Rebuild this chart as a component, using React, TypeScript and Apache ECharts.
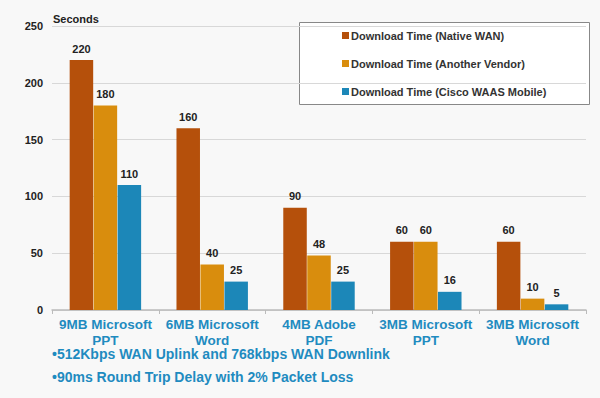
import React, { useEffect, useRef } from "react";
import * as echarts from "echarts";

const categories = ["9MB Microsoft\nPPT", "6MB Microsoft\nWord", "4MB Adobe\nPDF", "3MB Microsoft\nPPT", "3MB Microsoft\nWord"];
const seriesNames = ["Download Time (Native WAN)", "Download Time (Another Vendor)", "Download Time (Cisco WAAS Mobile)"];
const nativeWan = [220, 160, 90, 60, 60];
const anotherVendor = [180, 40, 48, 60, 10];
const ciscoWaas = [110, 25, 25, 16, 5];
const yTicks = [0, 50, 100, 150, 200, 250];
const notes = ["•512Kbps WAN Uplink and 768kbps WAN Downlink", "•90ms Round Trip Delay with 2% Packet Loss"];

const colors = ["#B5500B", "#D98D0D", "#1C87B8"];
const font = "'Liberation Sans', Arial, sans-serif";

export default function App() {
  const ref = useRef<HTMLDivElement>(null);
  useEffect(() => {
    if (!ref.current) return;
    const chart = echarts.init(ref.current, null, { renderer: "svg" });
    const data = [nativeWan, anotherVendor, ciscoWaas];
    chart.setOption({
      animation: false,
      backgroundColor: "#f8f8f8",
      textStyle: { fontFamily: font },
      grid: { left: 52, right: 14, top: 26, bottom: 88 },
      xAxis: {
        type: "category",
        data: categories,
        axisLine: { lineStyle: { color: "#bbbbbb", width: 1.5 } },
        axisTick: { show: true, length: 4, lineStyle: { color: "#bbbbbb" } },
        axisLabel: {
          interval: 0,
          color: "#1F8BC0",
          fontSize: 13.5,
          fontWeight: "bold",
          lineHeight: 16,
          margin: 6,
          fontFamily: font,
        },
      },
      yAxis: {
        type: "value",
        min: yTicks[0],
        max: yTicks[yTicks.length - 1],
        interval: 50,
        axisLine: { show: false },
        axisTick: { show: false },
        splitLine: { lineStyle: { color: "#d8d8d8" } },
        axisLabel: { color: "#222", fontSize: 11, fontWeight: "bold", margin: 9, fontFamily: font },
      },
      legend: {
        orient: "vertical",
        left: 342,
        top: 30,
        padding: 0,
        itemWidth: 7,
        itemHeight: 7,
        itemGap: 17,
        icon: "rect",
        textStyle: { color: "#333", fontSize: 11, fontWeight: "bold", lineHeight: 10, padding: [0, 0, 0, -3], fontFamily: font },
        data: seriesNames,
      },
      graphic: [
        {
          type: "rect",
          left: 299,
          top: 22,
          shape: { width: 290, height: 82 },
          style: { fill: "#ffffff", stroke: "#888888", lineWidth: 1 },
          z: -1,
        },
        {
          type: "text",
          left: 53,
          top: 13,
          style: { text: "Seconds", fill: "#222", font: `bold 11px ${font}` },
        },
        ...notes.map((t, i) => ({
          type: "text",
          left: 52,
          top: 347 + i * 23,
          style: { text: t, fill: "#1F8BC0", font: `bold 14px ${font}` },
        })),
      ],
      series: seriesNames.map((name, i) => ({
        name,
        type: "bar",
        data: data[i],
        barWidth: 23.5,
        barGap: "2%",
        itemStyle: { color: colors[i] },
        label: {
          show: true,
          position: "top",
          color: "#222",
          fontSize: 11,
          fontWeight: "bold",
          distance: 6,
          fontFamily: font,
        },
      })),
    });
    return () => chart.dispose();
  }, []);
  return <div ref={ref} style={{ width: 600, height: 398, position: "absolute", left: 0, top: 0 }} />;
}
